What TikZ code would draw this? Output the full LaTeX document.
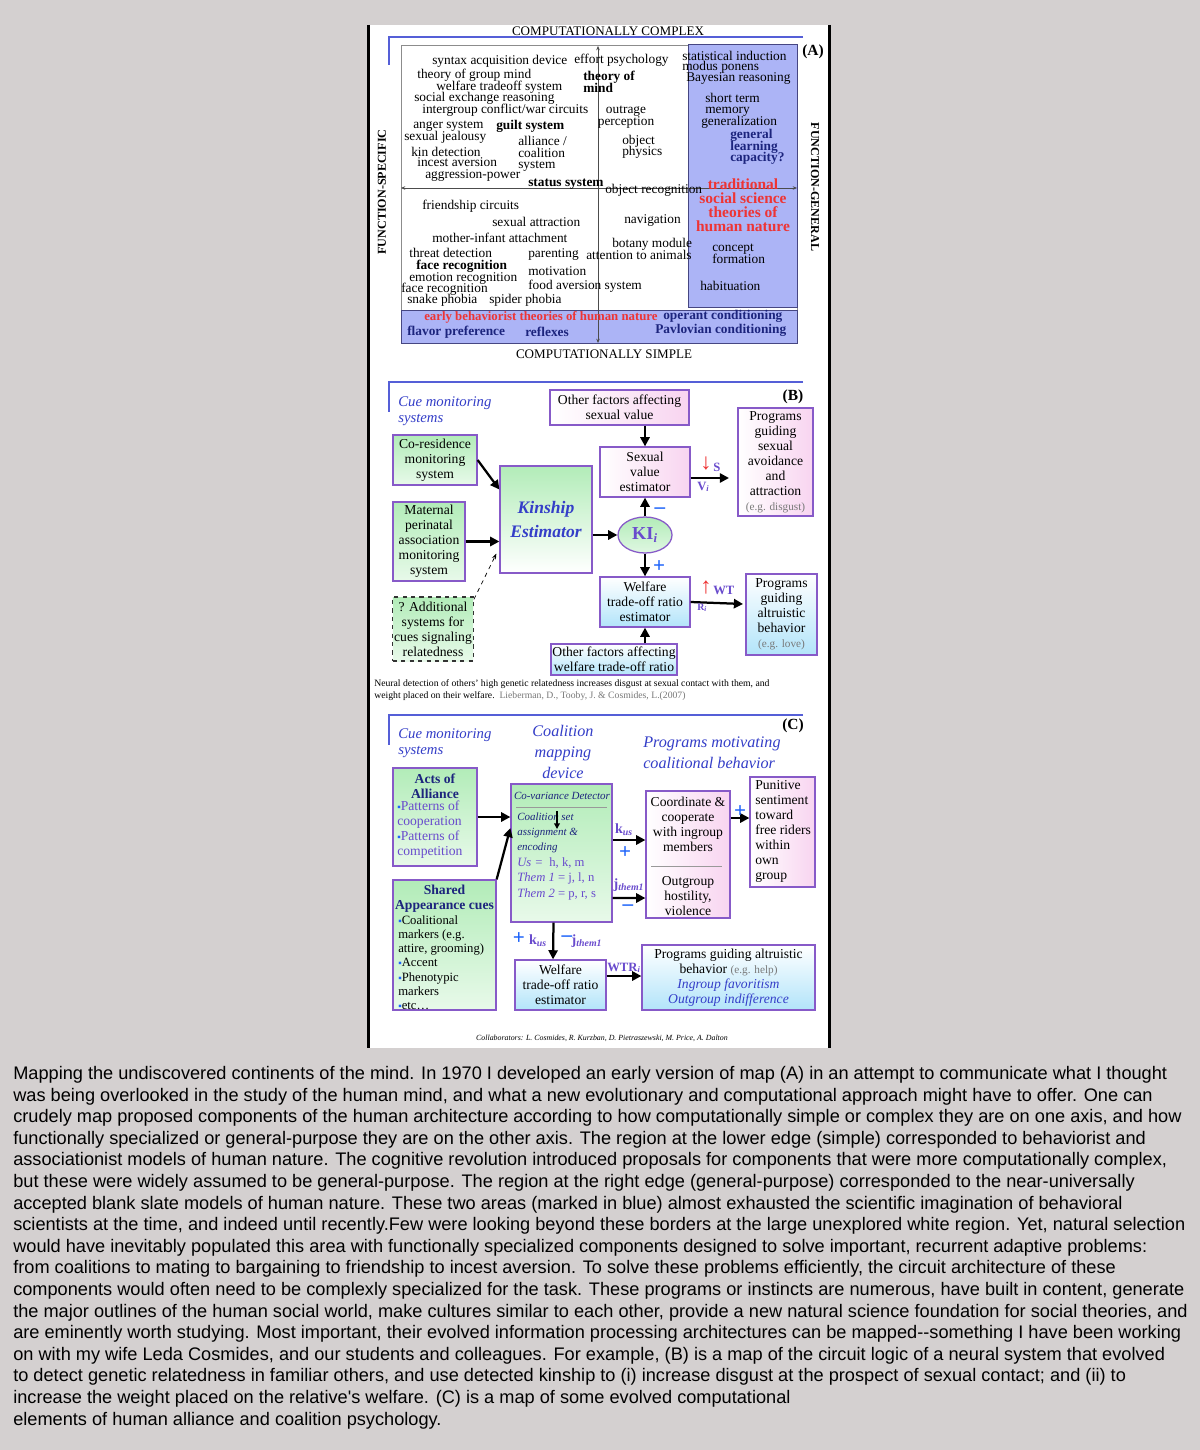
\documentclass[tikz,border=0pt]{standalone}
\usepackage{fontspec}
\setmainfont{Liberation Serif}
\newfontfamily\capfont{Liberation Sans}
\usetikzlibrary{arrows.meta, positioning, shapes.geometric, calc}
\definecolor{pagegray}{RGB}{212,208,208}
\definecolor{barblue}{RGB}{85,95,215}
\definecolor{regionblue}{RGB}{172,180,246}
\definecolor{regionedge}{RGB}{70,70,130}
\definecolor{mapred}{RGB}{238,52,52}
\definecolor{mapnavy}{RGB}{28,36,125}
\definecolor{boxedge}{RGB}{135,90,200}
\definecolor{pinkfill}{RGB}{248,212,240}
\definecolor{greenfill}{RGB}{178,236,184}
\definecolor{cyanfill}{RGB}{178,228,250}
\definecolor{headblue}{RGB}{52,62,200}
\definecolor{signblue}{RGB}{30,100,250}
\definecolor{varpurple}{RGB}{105,75,205}
\definecolor{notegray}{RGB}{120,120,120}
\lineskiplimit=-100pt
\newcommand\fA{\fontsize{9.5}{8.2}\selectfont}
\newcommand\fB{\fontsize{9.7}{10.7}\selectfont}
\newcommand\fH{\fontsize{10.5}{11.5}\selectfont\itshape}
\newcommand\sqbul{{\color{signblue}\fontsize{7}{7}\selectfont ▪}}

\begin{document}
\begin{tikzpicture}[x=0.025cm, y=-0.025cm,
  lbl/.style={anchor=west, inner sep=0pt, font=\fA, align=left},
  lblb/.style={lbl, font=\fA\bfseries},
  lblnavy/.style={lbl, font=\fA\bfseries, text=mapnavy},
  lblred/.style={inner sep=0pt, align=center, font=\bfseries\fontsize{11}{10}\selectfont, text=mapred},
  axislabel/.style={inner sep=0pt, font=\fontsize{9.3}{9.3}\selectfont},
  region/.style={fill=regionblue, draw=regionedge, line width=0.7pt},
  bar/.style={draw=barblue, line width=1.1pt},
  axis/.style={draw=black!70, line width=0.4pt, {Stealth[length=3pt,width=2.5pt]}-{Stealth[length=3pt,width=2.5pt]}},
  boxsize/.style 2 args={minimum width=#1*0.025cm, minimum height=#2*0.025cm},
  mapbox/.style={draw=boxedge, line width=0.9pt, inner sep=1pt, align=center, font=\fB},
  pinkbox/.style={mapbox, left color=white, right color=pinkfill},
  greenbox/.style={mapbox, top color=greenfill, bottom color=greenfill!30!white},
  bluebox/.style={mapbox, top color=white, bottom color=cyanfill},
  arr/.style={-{Triangle[length=6.5pt,width=6.5pt]}, line width=1.6pt},
  heading/.style={inner sep=0pt, font=\fH, text=headblue, align=left},
  sign/.style={inner sep=0pt, font=\bfseries\fontsize{15}{15}\selectfont, text=signblue},
  var/.style={inner sep=0pt, font=\bfseries\fontsize{9}{9}\selectfont, text=varpurple},
  panellabel/.style={inner sep=0pt, font=\bfseries\fontsize{11}{11}\selectfont},
]
  % page and white sheet
  \useasboundingbox (0,0) rectangle (1200,1450);
  \fill[pagegray] (0,0) rectangle (1200,1450);
  \fill[white] (368,25) rectangle (830,1048);
  \draw[line width=2.2pt] (368.5,25) -- (368.5,1048);
  \draw[line width=2.2pt] (829.5,25) -- (829.5,1048);

  % (A) the map of the mind
  \draw[bar] (803,37) -- (389,37) -- (389,65);
  \draw[black!45, line width=0.6pt] (401,45) rectangle (797,343);
  \draw[region] (688,44) rectangle (797,307);
  \draw[region] (401,310) rectangle (797,343);
  \draw[axis] (598,343) -- (598,46);
  \draw[axis] (401,188) -- (797,188);
  \node[axislabel] (complex) at (608,31) {COMPUTATIONALLY COMPLEX};
  \node[axislabel] (simple) at (604,354) {COMPUTATIONALLY SIMPLE};
  \node[axislabel, font=\bfseries\fontsize{8.6}{8.6}\selectfont, rotate=90] (specific) at (382,192) {FUNCTION-SPECIFIC};
  \node[axislabel, font=\bfseries\fontsize{8.6}{8.6}\selectfont, rotate=-90] (general) at (815,187) {FUNCTION-GENERAL};
  \node[panellabel] (labA) at (813,52) {(A)};

  % upper left
  \node[lbl] (sad) at (432,61) {syntax acquisition device};
  \node[lbl] (tgm) at (417,75) {theory of group mind};
  \node[lbl] (wts) at (436,87) {welfare tradeoff system};
  \node[lbl] (ser) at (414,98.5) {social exchange reasoning};
  \node[lbl] (icw) at (422,110.5) {intergroup conflict/war circuits};
  \node[lbl] (ang) at (413,126) {anger system};
  \node[lblb] (glt) at (496,126) {guilt system};
  \node[lbl] (sxj) at (404,137) {sexual jealousy};
  \node[lbl] (ally) at (518,154) {alliance /\\coalition\\system};
  \node[lbl] (kin) at (411,151.5) {kin detection};
  \node[lbl] (inc) at (417,162.5) {incest aversion};
  \node[lbl] (agg) at (425,176) {aggression-power};
  \node[lblb] (sts) at (528,184) {status system};
  % upper right
  \node[lbl] (eff) at (574,60) {effort psychology};
  \node[lblb] (tom) at (583,82) {theory of\\mind};
  \node[lbl, anchor=center, align=center] (outr) at (626,117) {outrage\\perception};
  \node[lbl] (objp) at (622,147) {object\\physics};
  \node[lbl] (objr) at (605,190) {object recognition};
  \node[lbl] (sti) at (682,55.5) {statistical induction};
  \node[lbl] (mps) at (682,67.5) {modus ponens};
  \node[lbl] (bay) at (686,79) {Bayesian reasoning};
  \node[lbl] (stm) at (705,105) {short term\\memory};
  \node[lbl] (gen) at (701,122) {generalization};
  \node[lblnavy] (glc) at (730,147) {general\\learning\\capacity?};
  \node[lblred] (tss) at (743,205) {traditional\\social science\\theories of\\human nature};
  \node[lbl] (cof) at (712,254) {concept\\formation};
  \node[lbl] (hab) at (700,286) {habituation};
  % lower left
  \node[lbl] (frc) at (422,206) {friendship circuits};
  \node[lbl] (sxa) at (492,222) {sexual attraction};
  \node[lbl] (mia) at (432,238) {mother-infant attachment};
  \node[lbl] (thr) at (409,253) {threat detection};
  \node[lblb] (fcra) at (416,266) {face recognition};
  \node[lbl] (emo) at (409,279) {emotion recognition};
  \node[lbl] (fcrb) at (401,289.5) {face recognition};
  \node[lbl] (snk) at (407,300.5) {snake phobia};
  \node[lbl] (spd) at (489,300.5) {spider phobia};
  \node[lbl] (par) at (528,255) {parenting};
  \node[lbl] (mot) at (528,271) {motivation};
  \node[lbl] (fav) at (528,286) {food aversion system};
  % lower right
  \node[lbl] (nav) at (624,221) {navigation};
  \node[lbl] (bot) at (612,244) {botany module};
  \node[lbl] (att) at (586,255) {attention to animals};
  % bottom band
  \node[lbl, font=\bfseries\fontsize{9.1}{9.1}\selectfont, text=mapred] (ebt) at (424,317) {early behaviorist theories of human nature};
  \node[lblnavy] (opc) at (663,316) {operant conditioning};
  \node[lblnavy] (flp) at (407,332) {flavor preference};
  \node[lblnavy] (rfx) at (525,332) {reflexes};
  \node[lblnavy] (pav) at (655,330) {Pavlovian conditioning};

  % (B) kinship circuit
  \draw[bar] (803,382) -- (389,382) -- (389,412);
  \node[panellabel] (labB) at (793,397) {(B)};
  \node[heading, anchor=west] (cueB) at (398,411) {Cue monitoring\\systems};
  \node[pinkbox, boxsize={139}{35}] (othsex) at (619.5,407.5) {Other factors affecting\\sexual value};
  \node[pinkbox, boxsize={90}{50}] (sexval) at (645,472) {Sexual\\value\\estimator};
  \node[pinkbox, boxsize={75}{108}] (progsex) at (775.5,462) {Programs\\guiding\\sexual\\avoidance\\and\\attraction\\{\color{notegray}\fontsize{8}{10}\selectfont (e.g. disgust)}};
  \node[greenbox, boxsize={84}{50}] (cores) at (435,460) {Co-residence\\monitoring\\system};
  \node[greenbox, boxsize={72}{79}] (matper) at (429,541.5) {Maternal\\perinatal\\association\\monitoring\\system};
  \node[greenbox, dashed, draw=black!80, boxsize={80}{64}] (addsys) at (433,629) {? Additional\\systems for\\cues signaling\\relatedness};
  \node[greenbox, boxsize={92}{107}, bottom color=white, font=\bfseries\itshape\fontsize{12.5}{16.5}\selectfont, text=headblue] (kinest) at (546,519.5) {Kinship\\Estimator};
  \node[ellipse, draw=boxedge, line width=0.9pt, top color=greenfill, bottom color=greenfill!40!white, minimum width=54*0.025cm, minimum height=36*0.025cm, inner sep=0pt, font=\bfseries\fontsize{13}{13}\selectfont, text=varpurple] (ki) at (645,535) {KI\textsubscript{\itshape i}};
  \node[bluebox, boxsize={90}{50}] (wtrB) at (645,602) {Welfare\\trade-off ratio\\estimator};
  \node[bluebox, boxsize={71}{81}] (progalt) at (781.5,614.5) {Programs\\guiding\\altruistic\\behavior\\{\color{notegray}\fontsize{8}{10}\selectfont (e.g. love)}};
  \node[bluebox, boxsize={126}{31}] (othwtr) at (614,659.5) {Other factors affecting\\welfare trade-off ratio};
  \coordinate (sexout) at (729,478);
  \coordinate (altout) at (743,604);
  \draw[arr] (othsex.south -| sexval) -- (sexval.north);
  \draw[arr] (cores.east) -- ($(kinest.west)+(0,-30)$);
  \draw[arr] (matper.east) -- (matper.east -| kinest.west);
  \draw[-{Stealth[length=4pt]}, dashed, line width=0.5pt] ($(addsys.north east)+(0,3)$) -- ($(kinest.south west)+(-3,-20)$);
  \draw[arr] (kinest.east |- ki) -- (ki.west);
  \draw[arr] (ki.north) -- (sexval.south);
  \draw[arr] (ki.south) -- (wtrB.north);
  \draw[arr] ($(sexval.east)+(0,6)$) -- (sexout);
  \draw[arr] (wtrB.east) -- (altout);
  \draw[arr] (othwtr.north -| wtrB) -- (wtrB.south);
  \node[inner sep=0pt, text=mapred, font=\fontsize{16}{16}\selectfont] (sdown) at (706,464) {↓};
  \node[var, anchor=west] (slab) at (713,467) {S};
  \node[var, anchor=west] (vlab) at (697,487) {V\textsubscript{\itshape i}};
  \node[sign] (kminus) at (660,511) {–};
  \node[sign] (kplus) at (659,567) {+};
  \node[inner sep=0pt, text=mapred, font=\fontsize{16}{16}\selectfont] (wtup) at (706,588) {↑};
  \node[var, anchor=west] (wtlab) at (713,590) {WT};
  \node[var, anchor=west, font=\bfseries\fontsize{7}{7}\selectfont] (rlab) at (697,608) {R\textsubscript{\itshape i}};
  \node[anchor=north west, inner sep=0pt, align=left, font=\fontsize{6.9}{8.5}\selectfont] (capB) at (374,679) {Neural detection of others’ high genetic relatedness increases disgust at sexual contact with them, and\\weight placed on their welfare.\ \ {\color{notegray}Lieberman, D., Tooby, J. \& Cosmides, L.(2007)}};

  % (C) coalition circuit
  \draw[bar] (803,715) -- (389,715) -- (389,745);
  \node[panellabel] (labC) at (793,726) {(C)};
  \node[heading, anchor=west] (cueC) at (398,743) {Cue monitoring\\systems};
  \node[heading, align=center, font=\fontsize{11.5}{15}\selectfont\itshape] (cmd) at (563,752) {Coalition\\mapping\\device};
  \node[heading, anchor=west, font=\fontsize{11.5}{15}\selectfont\itshape] (pmc) at (643,752.5) {Programs motivating\\coalitional behavior};
  \node[greenbox, boxsize={84}{98}] (acts) at (435,817) {};
  \node[inner sep=0pt, align=center, font=\fB\bfseries, text=mapnavy] (actsttl) at (435,786.5) {Acts of\\Alliance};
  \node[inner sep=0pt, anchor=west, align=left, font=\fB, text=varpurple] (actslist) at (397,830) {\sqbul Patterns of\\cooperation\\\sqbul Patterns of\\competition};
  \node[greenbox, boxsize={103}{130}] (shared) at (444.5,945) {};
  \node[inner sep=0pt, align=center, font=\fB\bfseries, text=mapnavy] (sharedttl) at (444.5,898.5) {Shared\\Appearance cues};
  \node[inner sep=0pt, anchor=west, align=left, font=\fontsize{9}{10.1}\selectfont] (sharedlist) at (398,962.5) {\sqbul Coalitional\\markers (e.g.\\attire, grooming)\\\sqbul Accent\\\sqbul Phenotypic\\markers\\\sqbul etc…};
  \node[greenbox, boxsize={101}{138}] (covar) at (561.5,853) {};
  \node[inner sep=0pt, font=\fontsize{7.8}{7.8}\selectfont\itshape, text=mapnavy] (covdet) at (562,796) {Co-variance Detector};
  \draw[black!40, line width=0.6pt] (516,807) -- (607,807);
  \node[inner sep=0pt, anchor=west, align=left, font=\fontsize{7.8}{10.7}\selectfont\itshape, text=mapnavy] (csa) at (517,832.5) {Coalition set\\assignment \&\\encoding};
  \coordinate (csatop) at (557,811);
  \coordinate (csabot) at (557,829);
  \draw[-{Triangle[length=4pt,width=4pt]}, line width=1pt] (csatop) -- (csabot);
  \node[inner sep=0pt, anchor=west, align=left, font=\fontsize{9}{11}\selectfont, text=varpurple] (sets) at (517,878.5) {\textit{Us =}\ \ h, k, m\\\textit{Them 1} = j, l, n\\\textit{Them 2} = p, r, s};
  \node[pinkbox, boxsize={84}{127}] (coord) at (688,854.5) {};
  \node[inner sep=0pt, align=center, font=\fB] (coordtop) at (688,824) {Coordinate \&\\cooperate\\with ingroup\\members};
  \draw[black!40, line width=0.6pt] (651,866) -- (722,866);
  \node[inner sep=0pt, align=center, font=\fB] (coordbot) at (688,896) {Outgroup\\hostility,\\violence};
  \node[pinkbox, boxsize={65}{110}] (punit) at (782.5,832) {};
  \node[inner sep=0pt, anchor=west, align=left, font=\fB] (punittxt) at (755,831.5) {Punitive\\sentiment\\toward\\free riders\\within\\own\\group};
  \node[bluebox, boxsize={91}{50}] (wtrC) at (560.5,985) {Welfare\\trade-off ratio\\estimator};
  \node[bluebox, boxsize={173}{65}] (progC) at (728.5,977.5) {Programs guiding altruistic\\behavior {\color{notegray}\fontsize{8}{10}\selectfont (e.g. help)}\\{\itshape\color{headblue}Ingroup favoritism}\\{\itshape\color{headblue}Outgroup indifference}};
  \draw[arr] (acts.east) -- (acts.east -| covar.west);
  \draw[arr] (shared.north east) -- ($(covar.west)+(0,-25)$);
  \draw[arr] ($(covar.east)+(0,-13)$) -- ($(coord.west)+(0,-14.5)$);
  \draw[arr] ($(covar.east)+(0,45)$) -- ($(coord.west)+(0,43.5)$);
  \draw[arr] ($(coord.east)+(0,-36.5)$) -- ($(punit.west)+(0,-14)$);
  \draw[arr] ($(covar.south)+(-8,0)$) -- ($(wtrC.north)+(-7.5,0)$);
  \draw[arr] ($(wtrC.east)+(0,-9)$) -- ($(progC.west)+(0,-1.5)$);
  \node[var, font=\bfseries\fontsize{10}{10}\selectfont] (kus) at (624,830) {k\textsubscript{\itshape us}};
  \node[sign] (usplus) at (625,853) {+};
  \node[var, font=\bfseries\fontsize{10}{10}\selectfont] (jthem) at (629,885) {j\textsubscript{\itshape them1}};
  \node[sign] (themminus) at (628,908) {–};
  \node[sign] (punplus) at (740,812) {+};
  \node[sign] (wplus) at (519,939) {+};
  \node[var, font=\bfseries\fontsize{10}{10}\selectfont] (wkus) at (538,941) {k\textsubscript{\itshape us}};
  \node[sign] (wminus) at (567,939) {–};
  \node[var, font=\bfseries\fontsize{10}{10}\selectfont] (wjthem) at (587,941) {j\textsubscript{\itshape them1}};
  \node[var, anchor=west] (wtrlab) at (607,968) {WTR\textsubscript{\itshape i}};
  \node[inner sep=0pt, font=\fontsize{5.6}{5.6}\selectfont\itshape] (collab) at (602,1038) {Collaborators: L. Cosmides, R. Kurzban, D. Pietraszewski, M. Price, A. Dalton};

  % caption
  \node[anchor=north west, inner sep=0pt, align=left, font=\capfont\fontsize{12.93}{15.36}\selectfont] (caption) at (13,1066) {Mapping the undiscovered continents of the mind. In 1970 I developed an early version of map (A) in an attempt to communicate what I thought\\
was being overlooked in the study of the human mind, and what a new evolutionary and computational approach might have to offer. One can\\
crudely map proposed components of the human architecture according to how computationally simple or complex they are on one axis, and how\\
functionally specialized or general-purpose they are on the other axis. The region at the lower edge (simple) corresponded to behaviorist and\\
associationist models of human nature. The cognitive revolution introduced proposals for components that were more computationally complex,\\
but these were widely assumed to be general-purpose. The region at the right edge (general-purpose) corresponded to the near-universally\\
accepted blank slate models of human nature. These two areas (marked in blue) almost exhausted the scientific imagination of behavioral\\
scientists at the time, and indeed until recently.Few were looking beyond these borders at the large unexplored white region. Yet, natural selection\\
would have inevitably populated this area with functionally specialized components designed to solve important, recurrent adaptive problems:\\
from coalitions to mating to bargaining to friendship to incest aversion. To solve these problems efficiently, the circuit architecture of these\\
components would often need to be complexly specialized for the task. These programs or instincts are numerous, have built in content, generate\\
the major outlines of the human social world, make cultures similar to each other, provide a new natural science foundation for social theories, and\\
are eminently worth studying. Most important, their evolved information processing architectures can be mapped-{}-something I have been working\\
on with my wife Leda Cosmides, and our students and colleagues. For example, (B) is a map of the circuit logic of a neural system that evolved\\
to detect genetic relatedness in familiar others, and use detected kinship to (i) increase disgust at the prospect of sexual contact; and (ii) to\\
increase the weight placed on the relative's welfare. (C) is a map of some evolved computational\\
elements of human alliance and coalition psychology.};
\end{tikzpicture}
\end{document}
